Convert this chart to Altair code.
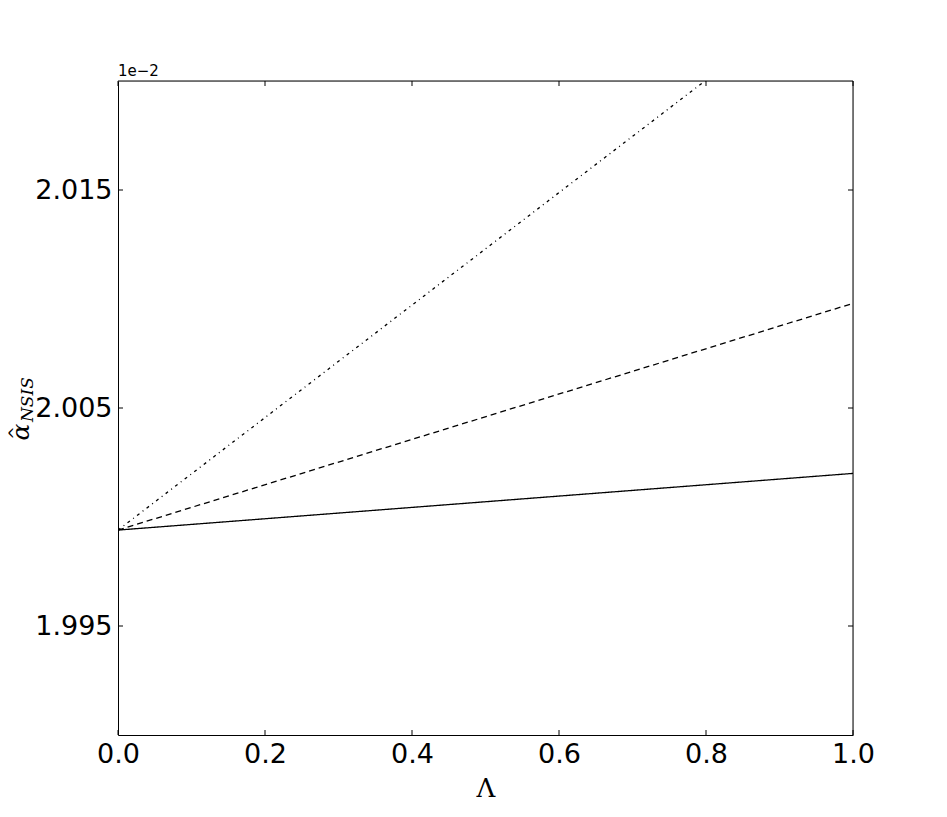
import altair as alt
import pandas as pd

# data (y values shown in units of 1e-2)
lam = [0.0, 1.0]
solid = [1.9994, 2.0020]
dashed = [1.9994, 2.0098]
dashdot = [1.9994, 2.0252]

x_ticks = [0.0, 0.2, 0.4, 0.6, 0.8, 1.0]
y_ticks = [1.995, 2.005, 2.015]
y_domain = [1.990, 2.020]

W, H = 735, 654
TL = 5

rows = []
for name, vals in [("solid", solid), ("dashed", dashed), ("dashdot", dashdot)]:
    for x, y in zip(lam, vals):
        rows.append({"series": name, "lam": x, "val": y})
df = pd.DataFrame(rows)

xs = alt.Scale(domain=[0, 1], nice=False, zero=False)
ys = alt.Scale(domain=y_domain, nice=False, zero=False)

xaxis = alt.Axis(values=x_ticks, format=".1f", tickSize=0, labelFontSize=27,
                 labelFont="DejaVu Sans", labelColor="black", labelPadding=6,
                 labelFlush=False,
                 title="Λ", titleFont="DejaVu Serif", titleFontSize=26,
                 titleFontWeight="normal", titleColor="black", titlePadding=8,
                 grid=False, domainColor="black")
yaxis = alt.Axis(values=y_ticks, format=".3f", tickSize=0, labelFontSize=27,
                 labelFont="DejaVu Sans", labelColor="black", labelPadding=6,
                 labelFlush=False,
                 title=None, grid=False, domainColor="black")

def line(name, dash):
    return alt.Chart(df[df.series == name]).mark_line(
        color="black", strokeWidth=1.3, strokeDash=dash, clip=True
    ).encode(x=alt.X("lam:Q", scale=xs, axis=xaxis), y=alt.Y("val:Q", scale=ys, axis=yaxis))

l1 = line("solid", [1, 0])
l2 = line("dashed", [6, 4])
l3 = line("dashdot", [3, 4, 1, 4])

xt = pd.DataFrame({"t": x_ticks})
yt = pd.DataFrame({"t": y_ticks})

xb = alt.Chart(xt).mark_rule(color="black").encode(x=alt.X("t:Q", scale=xs), y=alt.value(H), y2=alt.value(H - TL))
xtop = alt.Chart(xt).mark_rule(color="black").encode(x=alt.X("t:Q", scale=xs), y=alt.value(0), y2=alt.value(TL))
yl = alt.Chart(yt).mark_rule(color="black").encode(y=alt.Y("t:Q", scale=ys), x=alt.value(0), x2=alt.value(TL))
yr = alt.Chart(yt).mark_rule(color="black").encode(y=alt.Y("t:Q", scale=ys), x=alt.value(W), x2=alt.value(W - TL))

frame_top = alt.Chart(pd.DataFrame({"a": [0]})).mark_rule(color="black", strokeWidth=1).encode(
    x=alt.value(0), x2=alt.value(W), y=alt.value(0))
frame_right = alt.Chart(pd.DataFrame({"a": [0]})).mark_rule(color="black", strokeWidth=1).encode(
    x=alt.value(W), y=alt.value(0), y2=alt.value(H))

offset = alt.Chart(pd.DataFrame({"t": ["1e\u22122"]})).mark_text(
    align="left", baseline="bottom", fontSize=15, font="DejaVu Sans", color="black"
).encode(text="t:N", x=alt.value(0), y=alt.value(-2))

alpha = alt.Chart(pd.DataFrame({"t": ["α"]})).mark_text(
    align="center", baseline="middle", angle=270, fontSize=25, font="DejaVu Serif",
    fontStyle="italic", color="black"
).encode(text="t:N", x=alt.value(-97), y=alt.value(351))

hat = alt.Chart(pd.DataFrame({"t": ["^"]})).mark_text(
    align="center", baseline="middle", angle=270, fontSize=16, font="DejaVu Sans",
    color="black"
).encode(text="t:N", x=alt.value(-103), y=alt.value(352))

sub = alt.Chart(pd.DataFrame({"t": ["NSIS"]})).mark_text(
    align="left", baseline="middle", angle=270, fontSize=17, font="DejaVu Serif",
    fontStyle="italic", color="black"
).encode(text="t:N", x=alt.value(-90), y=alt.value(341))

chart = alt.layer(l1, l2, l3, xb, xtop, yl, yr, frame_top, frame_right, offset, alpha, hat, sub).properties(
    width=W, height=H,
    autosize=alt.AutoSizeParams(type="none"),
    padding={"left": 110, "top": 73, "right": 80, "bottom": 74},
).configure_view(stroke=None).configure(background="white")

chart.save("out.html", embed_options={"renderer": "svg", "actions": False})
